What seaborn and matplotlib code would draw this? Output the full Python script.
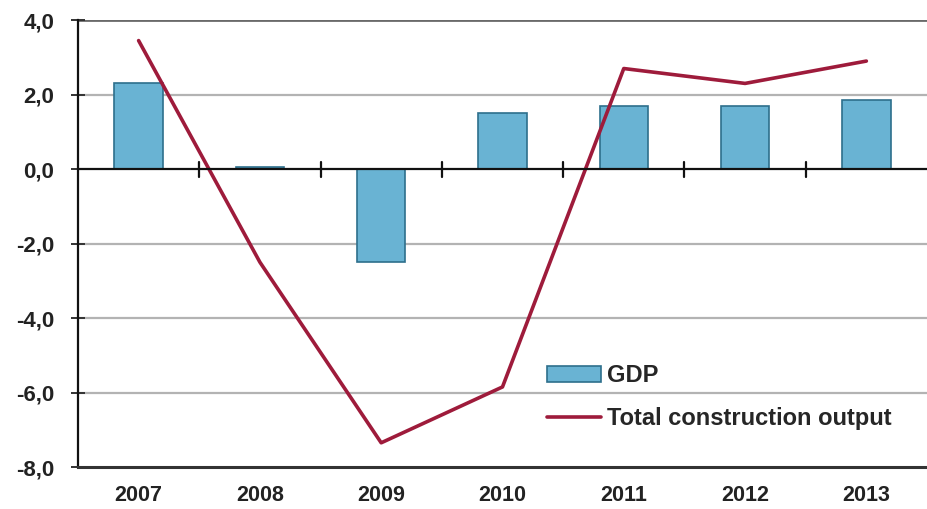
import matplotlib
matplotlib.use("Agg")
import matplotlib.pyplot as plt
import seaborn as sns
import numpy as np
import pandas as pd

years = ["2007", "2008", "2009", "2010", "2011", "2012", "2013"]
gdp = [2.3, 0.05, -2.5, 1.5, 1.7, 1.7, 1.85]
construction = [3.45, -2.5, -7.35, -5.85, 2.7, 2.3, 2.9]
yticks = [4, 2, 0, -2, -4, -6, -8]

sns.set_theme(style="white")
plt.rcParams['font.family'] = ['Liberation Sans', 'DejaVu Sans']
plt.rcParams['font.weight'] = 'bold'

df = pd.DataFrame({"year": years, "GDP": gdp, "Total construction output": construction})
df["pos"] = np.arange(len(years))

fig = plt.figure(figsize=(9.27, 5.09), dpi=100)
ax = fig.add_axes([0.0841, 0.0825, 0.9159, 0.878])

for y in yticks:
    if y not in (0, -8, 4):
        ax.axhline(y, color="#b3b3b3", lw=1.6, zorder=0)
ax.axhline(4, color="#6a6a6a", lw=2.0, zorder=0)

sns.barplot(data=df, x="year", y="GDP", color="#69b3d3", saturation=1, width=0.4,
            edgecolor="#2e6f8c", linewidth=1.2, ax=ax, label="GDP", zorder=2)
sns.lineplot(data=df, x="pos", y="Total construction output", color="#9e1b3b", lw=2.6,
             ax=ax, label="Total construction output", zorder=3)

ax.axhline(0, color="#111111", lw=1.6, zorder=4)
for b in np.arange(0.5, len(years) - 1, 1.0):
    ax.plot([b, b], [-0.2, 0.2], color="#111111", lw=1.6, zorder=4)

ax.set_xlim(-0.5, len(years) - 0.5)
ax.set_ylim(-8, 4)
ax.set_yticks(yticks)
ax.set_yticklabels([f"{v:.1f}".replace(".", ",") for v in yticks])
ax.set_xlabel("")
ax.set_ylabel("")

for s in ["top", "right"]:
    ax.spines[s].set_visible(False)
ax.spines["left"].set_color("#111111")
ax.spines["left"].set_linewidth(1.6)
ax.spines["bottom"].set_color("#333333")
ax.spines["bottom"].set_linewidth(2.2)

ax.tick_params(axis="y", which="both", left=True, direction="inout", length=10, width=1.4,
               color="#333333", labelsize=16, pad=12)
ax.tick_params(axis="x", bottom=False, labelsize=15.5, pad=7)
for t in ax.get_xticklabels() + ax.get_yticklabels():
    t.set_fontweight("bold")
    t.set_color("#222222")

handles, labels = ax.get_legend_handles_labels()
order = [labels.index("GDP"), labels.index("Total construction output")]
leg = ax.legend([handles[i] for i in order], [labels[i] for i in order],
                loc="upper left", bbox_to_anchor=(0.552, 0.23),
                frameon=False, handlelength=2.3, handletextpad=0.25,
                labelspacing=0.85, borderpad=0, borderaxespad=0,
                prop={"weight": "bold", "size": 17})

fig.savefig("out.png", dpi=100)
